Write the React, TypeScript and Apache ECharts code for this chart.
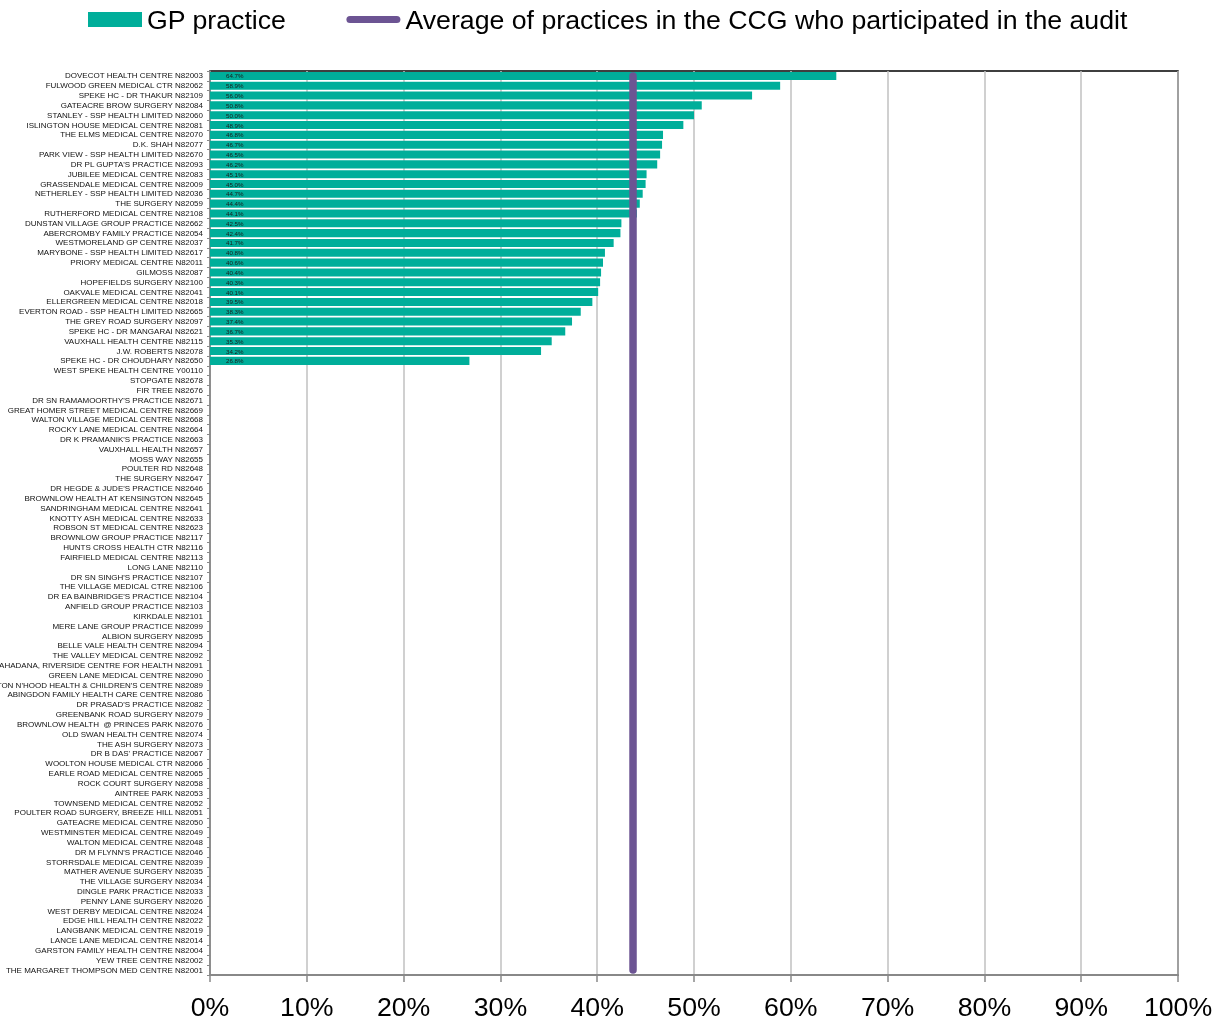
import React, { useEffect, useRef } from "react";
import * as echarts from "echarts";

const categories: string[] = [
  "DOVECOT HEALTH CENTRE N82003",
  "FULWOOD GREEN MEDICAL CTR N82062",
  "SPEKE HC - DR THAKUR N82109",
  "GATEACRE BROW SURGERY N82084",
  "STANLEY - SSP HEALTH LIMITED N82060",
  "ISLINGTON HOUSE MEDICAL CENTRE N82081",
  "THE ELMS MEDICAL CENTRE N82070",
  "D.K. SHAH N82077",
  "PARK VIEW - SSP HEALTH LIMITED N82670",
  "DR PL GUPTA'S PRACTICE N82093",
  "JUBILEE MEDICAL CENTRE N82083",
  "GRASSENDALE MEDICAL CENTRE N82009",
  "NETHERLEY - SSP HEALTH LIMITED N82036",
  "THE SURGERY N82059",
  "RUTHERFORD MEDICAL CENTRE N82108",
  "DUNSTAN VILLAGE GROUP PRACTICE N82662",
  "ABERCROMBY FAMILY PRACTICE N82054",
  "WESTMORELAND GP CENTRE N82037",
  "MARYBONE - SSP HEALTH LIMITED N82617",
  "PRIORY MEDICAL CENTRE N82011",
  "GILMOSS N82087",
  "HOPEFIELDS SURGERY N82100",
  "OAKVALE MEDICAL CENTRE N82041",
  "ELLERGREEN MEDICAL CENTRE N82018",
  "EVERTON ROAD - SSP HEALTH LIMITED N82665",
  "THE GREY ROAD SURGERY N82097",
  "SPEKE HC - DR MANGARAI N82621",
  "VAUXHALL HEALTH CENTRE N82115",
  "J.W. ROBERTS N82078",
  "SPEKE HC - DR CHOUDHARY N82650",
  "WEST SPEKE HEALTH CENTRE Y00110",
  "STOPGATE N82678",
  "FIR TREE N82676",
  "DR SN RAMAMOORTHY'S PRACTICE N82671",
  "GREAT HOMER STREET MEDICAL CENTRE N82669",
  "WALTON VILLAGE MEDICAL CENTRE N82668",
  "ROCKY LANE MEDICAL CENTRE N82664",
  "DR K PRAMANIK'S PRACTICE N82663",
  "VAUXHALL HEALTH N82657",
  "MOSS WAY N82655",
  "POULTER RD N82648",
  "THE SURGERY N82647",
  "DR HEGDE & JUDE'S PRACTICE N82646",
  "BROWNLOW HEALTH AT KENSINGTON N82645",
  "SANDRINGHAM MEDICAL CENTRE N82641",
  "KNOTTY ASH MEDICAL CENTRE N82633",
  "ROBSON ST MEDICAL CENTRE N82623",
  "BROWNLOW GROUP PRACTICE N82117",
  "HUNTS CROSS HEALTH CTR N82116",
  "FAIRFIELD MEDICAL CENTRE N82113",
  "LONG LANE N82110",
  "DR SN SINGH'S PRACTICE N82107",
  "THE VILLAGE MEDICAL CTRE N82106",
  "DR EA BAINBRIDGE'S PRACTICE N82104",
  "ANFIELD GROUP PRACTICE N82103",
  "KIRKDALE N82101",
  "MERE LANE GROUP PRACTICE N82099",
  "ALBION SURGERY N82095",
  "BELLE VALE HEALTH CENTRE N82094",
  "THE VALLEY MEDICAL CENTRE N82092",
  "SAHADANA, RIVERSIDE CENTRE FOR HEALTH N82091",
  "GREEN LANE MEDICAL CENTRE N82090",
  "PICTON N'HOOD HEALTH & CHILDREN'S CENTRE N82089",
  "ABINGDON FAMILY HEALTH CARE CENTRE N82086",
  "DR PRASAD'S PRACTICE N82082",
  "GREENBANK ROAD SURGERY N82079",
  "BROWNLOW HEALTH  @ PRINCES PARK N82076",
  "OLD SWAN HEALTH CENTRE N82074",
  "THE ASH SURGERY N82073",
  "DR B DAS' PRACTICE N82067",
  "WOOLTON HOUSE MEDICAL CTR N82066",
  "EARLE ROAD MEDICAL CENTRE N82065",
  "ROCK COURT SURGERY N82058",
  "AINTREE PARK N82053",
  "TOWNSEND MEDICAL CENTRE N82052",
  "POULTER ROAD SURGERY, BREEZE HILL N82051",
  "GATEACRE MEDICAL CENTRE N82050",
  "WESTMINSTER MEDICAL CENTRE N82049",
  "WALTON MEDICAL CENTRE N82048",
  "DR M FLYNN'S PRACTICE N82046",
  "STORRSDALE MEDICAL CENTRE N82039",
  "MATHER AVENUE SURGERY N82035",
  "THE VILLAGE SURGERY N82034",
  "DINGLE PARK PRACTICE N82033",
  "PENNY LANE SURGERY N82026",
  "WEST DERBY MEDICAL CENTRE N82024",
  "EDGE HILL HEALTH CENTRE N82022",
  "LANGBANK MEDICAL CENTRE N82019",
  "LANCE LANE MEDICAL CENTRE N82014",
  "GARSTON FAMILY HEALTH CENTRE N82004",
  "YEW TREE CENTRE N82002",
  "THE MARGARET THOMPSON MED CENTRE N82001",
];

// Practices that reported a value (in category order); the rest have no value
const practiceValues: number[] = [
  64.7, 58.9, 56.0, 50.8, 50.0, 48.9, 46.8, 46.7, 46.5, 46.2,
  45.1, 45.0, 44.7, 44.4, 44.1, 42.5, 42.4, 41.7, 40.8, 40.6,
  40.4, 40.3, 40.1, 39.5, 38.3, 37.4, 36.7, 35.3, 34.2, 26.8,
];

const ccgAverage = 43.7;

const xTicks: number[] = [0, 10, 20, 30, 40, 50, 60, 70, 80, 90, 100];

const SERIES_GP = "GP practice";
const SERIES_AVG = "Average of practices in the CCG who participated in the audit";

const FONT = "'Liberation Sans', Arial, sans-serif";

// stadium (rounded line) legend icon
const LINE_ICON = "path://M4,0 L56,0 A4,4 0 0 1 56,8 L4,8 A4,4 0 0 1 4,0 Z";

export default function App() {
  const ref = useRef<HTMLDivElement>(null);

  useEffect(() => {
    if (!ref.current) return;
    const chart = echarts.init(ref.current, null, { renderer: "svg" });

    const barData = categories.map((_, i) =>
      i < practiceValues.length ? practiceValues[i] : null
    );
    const avgData = categories.map(() => ccgAverage);

    chart.setOption({
      animation: false,
      textStyle: { fontFamily: FONT },
      legend: {
        left: 88,
        top: 6,
        padding: 0,
        itemWidth: 54,
        itemHeight: 15,
        itemGap: 60,
        textStyle: { fontFamily: FONT, fontSize: 26.7, color: "#000" },
        data: [
          { name: SERIES_GP, icon: "rect" },
          { name: SERIES_AVG, icon: LINE_ICON },
        ],
      },
      grid: {
        left: 210,
        right: 37,
        top: 71,
        bottom: 45,
        containLabel: false,
        outerBoundsMode: "none",
        show: true,
        borderColor: "#000",
        borderWidth: 1.5,
        backgroundColor: "transparent",
      },
      xAxis: {
        type: "value",
        min: xTicks[0],
        max: xTicks[xTicks.length - 1],
        interval: 10,
        axisLine: { show: true, lineStyle: { color: "#888", width: 2 } },
        axisTick: { show: true, length: 7, lineStyle: { color: "#888", width: 1.5 } },
        splitLine: { show: true, lineStyle: { color: "#c0c0c0", width: 1.5 } },
        axisLabel: {
          formatter: "{value}%",
          fontFamily: FONT,
          fontSize: 26.7,
          color: "#000",
          margin: 18,
        },
      },
      yAxis: {
        type: "category",
        inverse: true,
        data: categories,
        axisLine: { show: true, lineStyle: { color: "#888", width: 1.5 } },
        axisTick: { show: true, length: 3, lineStyle: { color: "#888" } },
        splitLine: { show: false },
        axisLabel: {
          fontFamily: FONT,
          fontSize: 8,
          color: "#111",
          margin: 7,
          interval: 0,
        },
      },
      series: [
        {
          name: SERIES_GP,
          type: "bar",
          data: barData,
          barCategoryGap: "18%",
          itemStyle: { color: "#00AE9A" },
          label: {
            show: true,
            position: "insideLeft",
            distance: 16,
            fontFamily: FONT,
            fontSize: 6.2,
            color: "#1a1a1a",
            formatter: (p: any) => (p.value == null ? "" : Number(p.value).toFixed(1) + "%"),
          },
          z: 2,
        },
        {
          name: SERIES_AVG,
          type: "line",
          data: avgData,
          symbol: "none",
          lineStyle: { color: "#6C5493", width: 7.5, cap: "round" },
          itemStyle: { color: "#6C5493" },
          z: 5,
        },
      ],
    });

    return () => chart.dispose();
  }, []);

  return (
    <div
      ref={ref}
      style={{ position: "fixed", left: 0, top: 0, width: 1215, height: 1020 }}
    />
  );
}
